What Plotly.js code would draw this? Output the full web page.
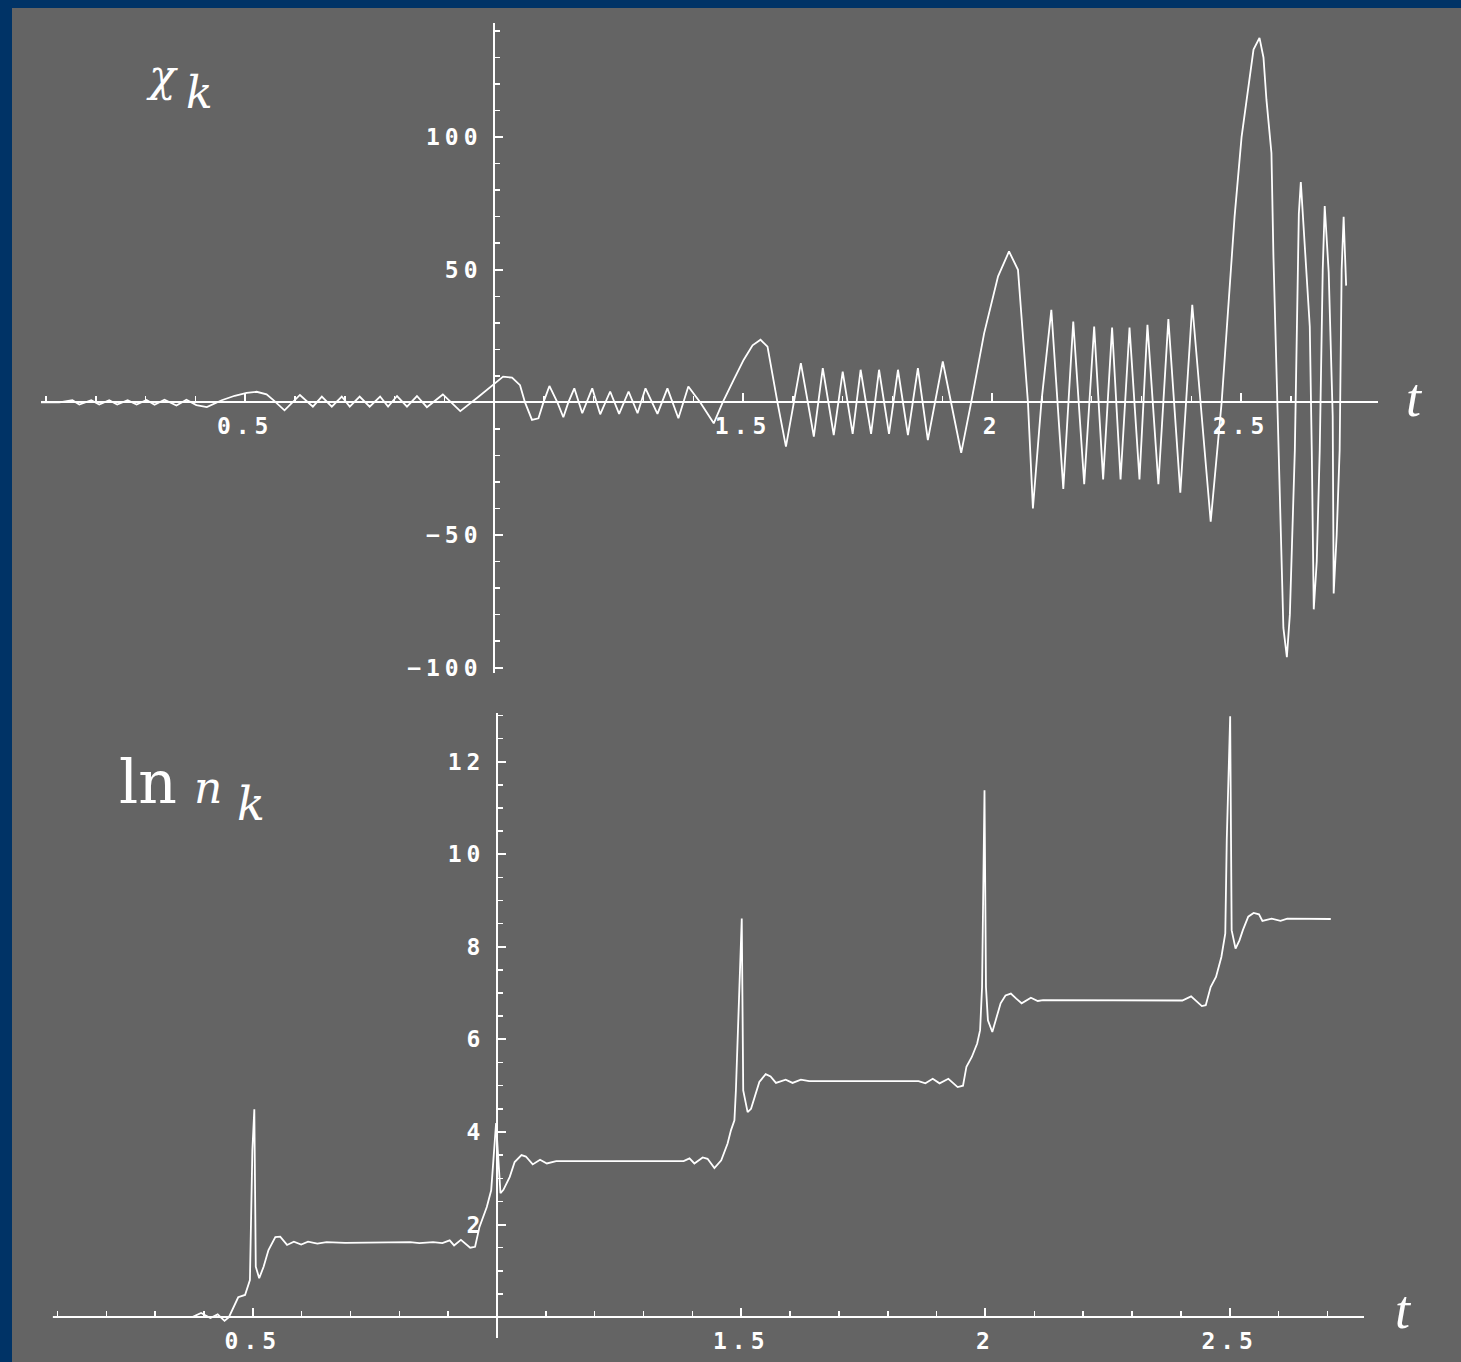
<!DOCTYPE html>
<html><head><meta charset="utf-8">
<script src="https://cdn.plot.ly/plotly-3.0.1.min.js"></script>
<style>
html,body{margin:0;padding:0;background:#003366;}
#chart{width:1461px;height:1362px;}
.xtick text,.x2tick text,.ytick text,.y2tick text{letter-spacing:5px;}
</style></head><body><div id="chart"></div>
<script>
// ---- data ----
const chiT = [0.09,0.127,0.153,0.167,0.191,0.207,0.227,0.243,0.264,0.282,0.302,0.318,0.338,0.362,0.382,0.402,0.423,0.453,0.479,0.503,0.523,0.543,0.559,0.579,0.610,0.636,0.654,0.674,0.694,0.710,0.730,0.750,0.771,0.787,0.805,0.825,0.845,0.865,0.897,0.932,0.968,0.998,1.018,1.036,1.052,1.062,1.076,1.089,1.099,1.111,1.127,1.139,1.149,1.161,1.177,1.197,1.213,1.233,1.251,1.270,1.288,1.304,1.328,1.348,1.370,1.390,1.414,1.441,1.459,1.481,1.501,1.519,1.535,1.549,1.561,1.569,1.586,1.602,1.616,1.630,1.642,1.660,1.682,1.700,1.720,1.736,1.757,1.773,1.793,1.811,1.831,1.851,1.871,1.901,1.938,1.958,1.984,2.012,2.034,2.052,2.062,2.072,2.082,2.099,2.119,2.143,2.163,2.185,2.205,2.223,2.241,2.258,2.276,2.296,2.312,2.334,2.354,2.378,2.402,2.439,2.461,2.474,2.487,2.501,2.511,2.525,2.537,2.545,2.551,2.561,2.565,2.571,2.575,2.585,2.592,2.598,2.608,2.616,2.620,2.628,2.638,2.642,2.646,2.652,2.658,2.664,2.668,2.676,2.684,2.686,2.692,2.698,2.702,2.706,2.711];
const chiVal = [0,0,0.8,-0.8,0.8,-0.8,0.8,-0.8,0.8,-0.8,0.9,-0.9,1.0,-1.2,1.0,-1.0,-1.8,0.8,2.5,3.6,4.0,3.0,0.5,-3.0,2.8,-1.6,2.2,-1.6,2.2,-1.6,2.2,-1.6,2.2,-1.6,2.4,-1.6,2.4,-1.8,3.0,-3.3,2.0,6.6,9.7,9.3,6.5,0,-6.6,-6.0,0,6.2,0,-5.6,0,5.3,-4.1,5.3,-4.5,4.1,-4.3,4.1,-4.1,5.3,-4.3,5.3,-6.0,6.0,0,-7.9,0,8.5,16,21.5,23.6,21,7.4,0,-16.7,0,14.8,0,-12.9,12.9,-12.3,11.6,-11.9,12.3,-11.9,12.3,-11.9,12.3,-12.3,12.9,-14.2,15.4,-19,0,26,47.5,56.9,50,26,0,-40,0,34.9,-32.6,30.5,-30.8,28.6,-29,28.2,-29,28.2,-29,29.2,-30.8,31.4,-34,36.8,-45,0,35,70,100,114,133,137.4,130,114,94,55,13.5,-18,-85,-96,-80,-18,71,83,58,28.6,-18,-78,-60,-18,50,74,49,-5,-72,-50,-18,50,70,44];

const lnT = [0.09,0.376,0.394,0.413,0.428,0.442,0.451,0.461,0.470,0.484,0.494,0.499,0.503,0.506,0.513,0.522,0.532,0.546,0.556,0.570,0.584,0.599,0.613,0.632,0.651,0.689,0.812,0.822,0.841,0.869,0.888,0.903,0.912,0.926,0.945,0.955,0.964,0.979,0.988,0.993,0.998,1.007,1.013,1.026,1.036,1.050,1.059,1.073,1.088,1.102,1.121,1.382,1.394,1.404,1.421,1.431,1.445,1.459,1.465,1.472,1.479,1.486,1.489,1.496,1.501,1.504,1.513,1.520,1.527,1.537,1.550,1.560,1.571,1.591,1.605,1.622,1.639,1.863,1.877,1.892,1.906,1.924,1.943,1.954,1.961,1.972,1.983,1.989,1.993,1.998,2.001,2.005,2.014,2.021,2.031,2.041,2.052,2.063,2.074,2.093,2.107,2.118,2.388,2.403,2.421,2.443,2.451,2.461,2.472,2.483,2.491,2.494,2.501,2.504,2.512,2.520,2.527,2.538,2.549,2.560,2.567,2.586,2.604,2.618,2.707];
const lnVal = [0,0,0.09,-0.02,0.06,-0.08,0,0.22,0.43,0.48,0.8,3.6,4.49,1.09,0.84,1.09,1.45,1.73,1.74,1.56,1.63,1.57,1.63,1.59,1.62,1.605,1.605,1.62,1.6,1.62,1.6,1.66,1.55,1.67,1.5,1.52,1.95,2.38,2.74,3.54,4.19,2.68,2.75,3.03,3.35,3.5,3.47,3.3,3.4,3.32,3.37,3.37,3.43,3.32,3.45,3.42,3.22,3.39,3.57,3.75,4.04,4.25,4.9,6.85,8.61,4.9,4.43,4.5,4.76,5.08,5.25,5.2,5.06,5.13,5.06,5.13,5.1,5.1,5.05,5.15,5.05,5.15,4.97,5.0,5.41,5.62,5.91,6.2,7.13,11.38,7.13,6.41,6.16,6.41,6.78,6.95,6.99,6.88,6.78,6.9,6.83,6.85,6.85,6.84,6.93,6.72,6.74,7.13,7.35,7.78,8.29,10.3,12.98,8.36,7.96,8.14,8.36,8.65,8.73,8.7,8.56,8.61,8.56,8.61,8.6];

const xTickVals = [0.5, 1.5, 2, 2.5];
const xTickText = ['0.5', '1.5', '2', '2.5'];
const chiTickVals = [-100, -50, 50, 100];
const chiTickText = ['\u2212100', '\u221250', '50', '100'];
const lnTickVals = [2, 4, 6, 8, 10, 12];
const lnTickText = ['2', '4', '6', '8', '10', '12'];

// ---- layout ----
const W = 1461, H = 1362;
const tRange = [0.09, 2.775];
const chiRange = [-102, 143];
const lnRange = [-0.45, 13.05];
const px = v => v / W;
const py = v => 1 - v / H;
const topXdom = [px(41), px(1378)];
const topYdom = [py(673), py(23)];
const botXdom = [px(52.6), px(1364)];
const botYdom = [py(1338), py(713)];
const frac = (v, r) => (v - r[0]) / (r[1] - r[0]);
const at = (d, f) => d[0] + f * (d[1] - d[0]);

const tickFont = {family: 'DejaVu Sans Mono', size: 23, color: 'white', weight: 'bold'};
function ax(extra, minorStep) {
  return Object.assign({
    showline: true, linecolor: 'white', linewidth: 2,
    ticks: 'inside', ticklen: 8, tickwidth: 2, tickcolor: 'white',
    showgrid: false, zeroline: false, anchor: 'free', fixedrange: true,
    tickmode: 'array', tickfont: tickFont,
    minor: {ticks: 'inside', ticklen: 5, tickwidth: 1.5, tickcolor: 'white',
            tickmode: 'linear', tick0: 0, dtick: minorStep, showgrid: false}
  }, extra);
}

function label(text, x, y, family, size, style, xanchor) {
  return {xref: 'paper', yref: 'paper', x: px(x), y: py(y), xanchor: xanchor || 'left', yanchor: 'middle',
          showarrow: false, text: text, font: {family: family, size: size, color: 'white', style: style}};
}

const layout = {
  width: W, height: H,
  margin: {l: 0, r: 0, t: 0, b: 0},
  paper_bgcolor: '#003366', plot_bgcolor: 'rgba(0,0,0,0)',
  showlegend: false,
  shapes: [{type: 'rect', xref: 'paper', yref: 'paper', x0: px(12), x1: 1, y0: 0, y1: py(8),
            fillcolor: '#646464', line: {width: 0}, layer: 'below'}],
  xaxis: ax({domain: topXdom, range: tRange, position: at(topYdom, frac(0, chiRange)),
             tickvals: xTickVals, ticktext: xTickText, ticklabelstandoff: 3}, 0.1),
  yaxis: ax({domain: topYdom, range: chiRange, position: at(topXdom, frac(1, tRange)),
             tickvals: chiTickVals, ticktext: chiTickText, ticklabelstandoff: 6}, 10),
  xaxis2: ax({domain: botXdom, range: tRange, position: at(botYdom, frac(0, lnRange)),
              tickvals: xTickVals, ticktext: xTickText, ticklabelstandoff: 3}, 0.1),
  yaxis2: ax({domain: botYdom, range: lnRange, position: at(botXdom, frac(1, tRange)),
              tickvals: lnTickVals, ticktext: lnTickText, ticklabelstandoff: 6}, 0.5),
  annotations: [
    label('\u03c7', 144, 76, 'DejaVu Serif', 44, 'italic'),
    label('k', 184, 93, 'DejaVu Serif', 44, 'italic'),
    label('ln', 117, 782, 'DejaVu Serif', 60, 'normal'),
    label('n', 192, 787, 'DejaVu Serif', 44, 'italic'),
    label('k', 235, 804, 'DejaVu Serif', 46, 'italic'),
    label('t', 1414, 398, 'Liberation Serif', 54, 'italic', 'center'),
    label('t', 1403, 1310, 'Liberation Serif', 54, 'italic', 'center')
  ]
};

const traces = [
  {x: chiT, y: chiVal, xaxis: 'x', yaxis: 'y', type: 'scatter', mode: 'lines',
   line: {color: 'white', width: 1.8}, hoverinfo: 'skip'},
  {x: lnT, y: lnVal, xaxis: 'x2', yaxis: 'y2', type: 'scatter', mode: 'lines',
   line: {color: 'white', width: 1.8}, hoverinfo: 'skip'}
];

Plotly.newPlot('chart', traces, layout, {displayModeBar: false, staticPlot: true});
</script></body></html>
